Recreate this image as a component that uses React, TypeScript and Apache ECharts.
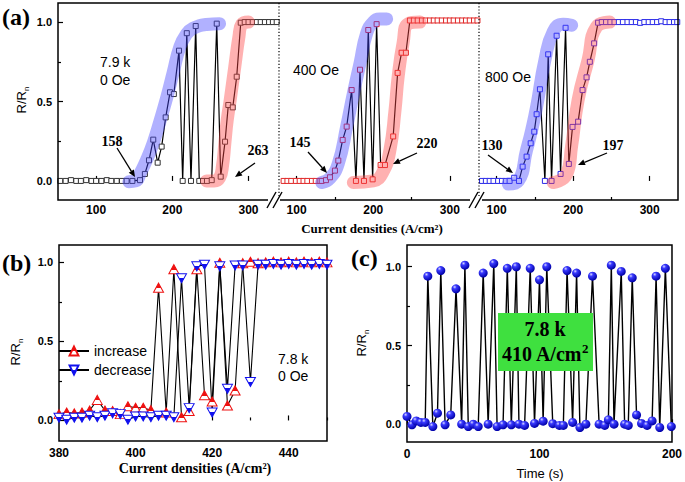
import React, { useEffect, useRef } from 'react';
import * as echarts from 'echarts';

const SANS = '"Liberation Sans", Arial, sans-serif';
const SERIF = '"Liberation Serif", "Times New Roman", serif';

// ---------- Panel (a): R/Rn vs current density, three fields ----------
const seg0Oe = [
  [53, 0], [60, 0], [67, 0.005], [74, 0], [80, 0], [87, 0.005], [94, 0], [100, 0], [107, 0], [114, 0.005],
  [120, 0], [127, 0], [134, 0], [140, 0], [147.6, 0], [157.6, 0.005], [164, 0.044], [169.4, 0.13],
  [175, 0.26], [180.8, 0.115], [186, 0.216], [191.3, 0.4], [197, 0.558], [202, 0.547], [208.8, 0.82],
  [213.6, 0], [219, 0.93], [224.5, 0], [230.7, 0.975], [235.4, 0], [240.3, 0], [245.5, 0], [251.7, 0.005],
  [258.3, 0.99], [263.5, 0.027], [269.2, 0.247], [273.5, 0.478], [279.3, 0.463], [284.5, 0.656],
  [289.8, 0.996], [295, 1], [300, 1], [305.5, 1], [311, 1], [316, 1], [321.5, 1], [327, 1], [332, 1], [337, 1],
];
const seg400Oe = [
  [83, 0], [88, 0], [93, 0], [99, 0], [104, 0], [109, 0], [114, 0], [120, 0], [125, 0], [130, 0],
  [132.7, 0], [138.3, 0.005], [143.5, 0.023], [150, 0.065], [154.4, 0.128], [160.1, 0.258], [165.3, 0.342],
  [171.8, 0.572], [177.4, 0], [182.7, 0.7], [187.9, 0], [193.5, 0.95], [199.2, 0.01], [204.4, 0.987],
  [209.6, 0.1], [215.3, 0.1], [226, 0.28], [231.8, 0.68], [237, 0.807], [242.6, 0.807], [247.8, 1.01],
  [253, 1.01], [258, 1.01], [263.5, 1.01], [268.5, 1.01], [274, 1.01], [279, 1.01], [284, 1.01], [289.5, 1.01],
  [295, 1.01], [300, 1.01], [305, 1.01], [310.5, 1.01], [316, 1.01], [321, 1.01], [326, 1.01], [331.5, 1.01], [336, 1.01],
];
const seg800Oe = [
  [81, 0], [86, 0], [91, 0], [96, 0], [102, 0], [107, 0], [112, 0], [117, 0], [123, 0.02], [129.2, 0],
  [134, 0.09], [139.2, 0.153], [144.5, 0.237], [149.2, 0.31], [152.3, 0.42], [156.6, 0.577], [163.1, 0],
  [167.4, 0.797], [171.8, 0], [178.4, 0.914], [183.6, 0.044], [190.1, 0.964], [194.4, 0.107], [199.2, 0.34],
  [206.5, 0.373], [212.3, 0.572], [217.5, 0.652], [221.8, 0.75], [227.4, 0.866], [232.6, 0.996],
  [237.4, 1], [243, 1], [248.6, 1], [254, 1], [259.7, 1], [265, 1], [271, 1], [276.5, 1], [282, 1],
  [287.5, 0.995], [293, 1], [298.7, 1], [304, 1], [309.7, 1], [315, 1.005], [320.8, 1], [326, 1], [331.8, 1], [336, 1],
];
// shaded guide bands (blue: increasing branch, red: decreasing branch)
const band0OeBlue = [[143, -0.005], [152, 0], [158, 0.05], [166, 0.13], [175, 0.24], [184, 0.38], [193, 0.53], [201, 0.68], [210, 0.845], [218, 0.92], [227, 0.96], [245, 0.985], [262, 0.99]];
const band0OeRed = [[245, 0], [255, 0], [262, 0.02], [266, 0.1], [269, 0.24], [272, 0.38], [276, 0.51], [282, 0.72], [287.5, 0.91], [291, 0.985], [300, 1]];
const band400Blue = [[132.7, -0.01], [143.5, 0.017], [154.4, 0.11], [165.3, 0.342], [174, 0.55], [182.7, 0.74], [191.4, 0.93], [200, 1.0], [208.7, 1.02], [217.5, 1.02]];
const band400Red = [[174, -0.01], [200, 0], [213, 0.06], [221.8, 0.195], [228.3, 0.44], [232.6, 0.66], [239, 0.87], [245.6, 0.99], [261, 1.0]];
const band800Blue = [[115.3, -0.02], [128.3, 0], [139.2, 0.195], [145.8, 0.32], [152.3, 0.467], [163.1, 0.76], [174, 0.94], [187, 0.987], [198, 0.98]];
const band800Red = [[174, -0.01], [191.4, 0.04], [198, 0.22], [206.5, 0.51], [219.5, 0.76], [230.5, 0.97], [247.8, 1.0]];

const aTicks = [100, 200, 300];
const aMinorTicks = [150, 250];
const rTicks = [0, 0.5, 1];
const rMinorTicks = [0.25, 0.75];

// ---------- Panel (b): increase / decrease sweeps ----------
const bCurrents = [380, 382, 384, 386, 388, 390, 392, 394, 396, 398, 400, 402, 404, 406, 408, 410, 412, 414,
  416, 418, 420, 422, 424, 426, 428, 430, 432, 434, 436, 438, 440, 442, 444, 446, 448, 450];
const bIncrease = [0.04, 0.05, 0.045, 0.05, 0.063, 0.13, 0.063, 0.06, 0.04, 0.09, 0.08, 0.08, 0.065, 0.84, 0.05,
  0.957, 0.02, 0.06, 0.957, 0.16, 0.12, 0.998, 0.095, 0.19, 0.995, 1.004, 0.995, 1.0, 1.005, 1.0, 1.005, 1.0, 1.005, 1.0, 1.005, 1.0];
const bDecrease = [0.017, 0.005, 0.017, 0.017, 0.03, 0.02, 0.03, 0.045, 0.04, 0.005, 0.025, 0.025, 0.02, 0.03, 0.03,
  0.02, 0.9, 0.078, 0.975, 0.985, 0.05, 0.975, 0.2, 0.98, 0.98, 0.243, 0.985, 0.985, 0.99, 0.985, 0.99, 0.985, 0.99, 0.985, 0.99, 0.985];
const bTicks = [380, 400, 420, 440];
const bMinorTicks = [390, 410, 430, 450];

// ---------- Panel (c): telegraph switching vs time ----------
const cSwitching = [
  [0, 0.05], [3.75, -0.003], [7, 0.022], [10.5, 0.012], [13.75, 0.012], [15.7, 0.94], [19.5, -0.014], [23, 0.071],
  [25.5, 0.976], [28.75, -0.003], [33, 0.06], [37, 0.86], [41.25, 0.001], [43.7, 1.01], [46.25, -0.014], [50, 0.001],
  [53.75, -0.014], [57.5, 0.96], [61.25, 0.001], [65.5, 1.02], [68, -0.014], [72.5, -0.003], [75.7, 0.99], [78.75, -0.003],
  [82.5, 1.0], [84.5, 0.001], [88.75, -0.007], [93, 0.99], [96.25, 0.006], [100, 0.917], [102.75, 0.02], [105.5, 1.0],
  [110, 0.004], [115, -0.007], [118, -0.007], [120.8, 0.976], [125, 0.012], [128, 0.96], [130.5, -0.02], [135, 0.001],
  [140, 0.94], [145, 0.001], [149.25, -0.007], [152, 0.029], [154.2, 1.01], [156.25, 0.001], [161.7, 0.97], [164.25, 0.001],
  [167, -0.007], [170, 0.93], [173.25, 0.06], [177, 0.006], [181.25, -0.007], [185, 0.022], [188, 0.94], [190.75, -0.02],
  [195, 0.99], [199.5, -0.014],
];
const cTicks = [0, 100, 200];
const cMinorTicks = [50, 150];

const TRI_DOWN = 'path://M0,0 L10,0 L5,9 Z';

const tickLine = { color: '#000', width: 1.2 };

function majorAxis(gridIndex: number, min: number, max: number, ticks: number[], position: string, fmt: (v: number) => string, fontSize = 12, margin = 6) {
  return {
    type: 'value', gridIndex, min, max, position,
    axisLine: { show: false }, splitLine: { show: false },
    axisTick: { show: true, inside: true, length: 5, customValues: ticks, lineStyle: tickLine },
    axisLabel: { show: true, customValues: ticks, margin, color: '#000', fontFamily: SANS, fontWeight: 'bold', fontSize, formatter: fmt },
  };
}
function minorAxis(gridIndex: number, min: number, max: number, ticks: number[], position: string) {
  return {
    type: 'value', gridIndex, min, max, position,
    axisLine: { show: false }, splitLine: { show: false },
    axisTick: { show: true, inside: true, length: 3, customValues: ticks, lineStyle: tickLine },
    axisLabel: { show: false },
  };
}
const fmtInt = (v: number) => String(Math.round(v));
const fmt1 = (v: number) => v.toFixed(1);

function segSeries(data: number[][], idx: number, stroke: string) {
  return {
    type: 'line', xAxisIndex: idx, yAxisIndex: idx, data, symbol: 'rect', symbolSize: 5,
    showSymbol: true, showAllSymbol: true, silent: true, z: 2,
    lineStyle: { color: '#000', width: 1.2 },
    itemStyle: { color: '#fff', borderColor: stroke, borderWidth: 1 },
  };
}
function bandSeries(data: number[][], idx: number, color: string) {
  return {
    type: 'line', xAxisIndex: idx, yAxisIndex: idx, data, smooth: 0.5, symbol: 'none', silent: true, z: 3,
    lineStyle: { color, width: 13, cap: 'round', join: 'round' },
  };
}

function arrow(x1: number, y1: number, x2: number, y2: number) {
  const L = Math.hypot(x2 - x1, y2 - y1);
  const ux = (x2 - x1) / L, uy = (y2 - y1) / L;
  const bx = x2 - ux * 7, by = y2 - uy * 7;
  const px = -uy, py = ux;
  return [
    { type: 'line', z: 100, shape: { x1, y1, x2: bx, y2: by }, style: { stroke: '#000', lineWidth: 1.3 } },
    { type: 'polygon', z: 100, shape: { points: [[x2, y2], [bx + px * 3, by + py * 3], [bx - px * 3, by - py * 3]] }, style: { fill: '#000' } },
  ];
}
function txt(x: number, y: number, text: string, font: string, size: number, weight = 'normal', align = 'center') {
  return { type: 'text', z: 100, x, y, style: { text, fill: '#000', fontFamily: font, fontSize: size, fontWeight: weight, align, verticalAlign: 'middle' } };
}
function rTitle(x: number, y: number) {
  return {
    type: 'text', z: 100, x, y, rotation: Math.PI / 2,
    style: {
      text: '{a|R/R}{b|n}', fill: '#000', align: 'center', verticalAlign: 'middle',
      rich: { a: { fontFamily: SANS, fontSize: 13, lineHeight: 18 }, b: { fontFamily: SANS, fontSize: 8, lineHeight: 8, verticalAlign: 'bottom' } },
    },
  };
}
function breakMark(cx: number) {
  return [
    { type: 'rect', z: 100, shape: { x: cx - 6, y: 196, width: 12, height: 8 }, style: { fill: '#fff' } },
    { type: 'line', z: 101, shape: { x1: cx - 7, y1: 208, x2: cx + 2, y2: 192 }, style: { stroke: '#000', lineWidth: 1.4 } },
    { type: 'line', z: 101, shape: { x1: cx - 1, y1: 208, x2: cx + 8, y2: 192 }, style: { stroke: '#000', lineWidth: 1.4 } },
  ];
}
// half-filled marker fill: solid colour near the tip, white elsewhere
function tipFill(color: string, tipAtTop: boolean) {
  const stops = tipAtTop
    ? [{ offset: 0, color }, { offset: 0.55, color }, { offset: 0.55, color: '#fff' }, { offset: 1, color: '#fff' }]
    : [{ offset: 0, color: '#fff' }, { offset: 0.45, color: '#fff' }, { offset: 0.45, color }, { offset: 1, color }];
  return new echarts.graphic.LinearGradient(0, 0, 0, 1, stops);
}

function buildOption() {
  const aRange = [[50, 340], [77, 338], [77, 337]];
  const aY = [-0.12, 1.12];
  const bY = [-0.13, 1.11];
  const cY = [-0.112, 1.138];
  const BLUE = 'rgba(70,70,255,0.42)';
  const RED = 'rgba(255,70,70,0.42)';
  const ball = new echarts.graphic.RadialGradient(0.35, 0.3, 0.7, [
    { offset: 0, color: '#d8d8ff' },
    { offset: 0.3, color: '#3a3aff' },
    { offset: 1, color: '#0000a8' },
  ]);

  return {
    animation: false,
    grid: [
      { left: 58, top: 3, width: 221, height: 197 },
      { left: 279, top: 3, width: 200, height: 197 },
      { left: 479, top: 3, width: 199, height: 197 },
      { left: 59, top: 245, width: 268, height: 196, show: true, borderColor: '#000', borderWidth: 1.5, backgroundColor: 'transparent' },
      { left: 407, top: 245, width: 267, height: 197, show: true, borderColor: '#000', borderWidth: 1.5, backgroundColor: 'transparent' },
    ],
    xAxis: [
      majorAxis(0, aRange[0][0], aRange[0][1], aTicks, 'bottom', fmtInt, 12, 4),
      majorAxis(1, aRange[1][0], aRange[1][1], aTicks, 'bottom', fmtInt, 12, 4),
      majorAxis(2, aRange[2][0], aRange[2][1], aTicks, 'bottom', fmtInt, 12, 4),
      majorAxis(3, 380, 450, bTicks, 'bottom', fmtInt),
      majorAxis(4, 0, 200, cTicks, 'bottom', fmtInt),
      minorAxis(0, aRange[0][0], aRange[0][1], aMinorTicks, 'bottom'),
      minorAxis(1, aRange[1][0], aRange[1][1], aMinorTicks, 'bottom'),
      minorAxis(2, aRange[2][0], aRange[2][1], aMinorTicks, 'bottom'),
      minorAxis(3, 380, 450, bMinorTicks, 'bottom'),
      minorAxis(4, 0, 200, cMinorTicks, 'bottom'),
    ],
    yAxis: [
      majorAxis(0, aY[0], aY[1], rTicks, 'left', fmt1, 11),
      { type: 'value', gridIndex: 1, min: aY[0], max: aY[1], show: false },
      { type: 'value', gridIndex: 2, min: aY[0], max: aY[1], show: false },
      majorAxis(3, bY[0], bY[1], rTicks, 'left', fmt1, 11),
      majorAxis(4, cY[0], cY[1], rTicks, 'left', fmt1, 11),
      minorAxis(0, aY[0], aY[1], rMinorTicks, 'left'),
      minorAxis(3, bY[0], bY[1], rMinorTicks, 'left'),
      minorAxis(4, cY[0], cY[1], rMinorTicks, 'left'),
    ],
    legend: {
      data: ['increase', 'decrease'], orient: 'vertical', left: 58, top: 344, padding: 0,
      itemWidth: 30, itemHeight: 11, itemGap: 5, selectedMode: false,
      textStyle: { fontFamily: SANS, fontSize: 14, color: '#000' },
    },
    series: [
      segSeries(seg0Oe, 0, '#333'),
      segSeries(seg400Oe, 1, '#e02828'),
      segSeries(seg800Oe, 2, '#2a2ae8'),
      bandSeries(band0OeBlue, 0, BLUE),
      bandSeries(band0OeRed, 0, RED),
      bandSeries(band400Blue, 1, BLUE),
      bandSeries(band400Red, 1, RED),
      bandSeries(band800Blue, 2, BLUE),
      bandSeries(band800Red, 2, RED),
      {
        name: 'increase', type: 'line', xAxisIndex: 3, yAxisIndex: 3,
        data: bCurrents.map((c, i) => [c, bIncrease[i]]),
        symbol: 'triangle', symbolSize: [10, 9], showAllSymbol: true,
        lineStyle: { color: '#000', width: 1.1 },
        itemStyle: { color: tipFill('#ee1111', true), borderColor: '#ee1111', borderWidth: 1 },
      },
      {
        name: 'decrease', type: 'line', xAxisIndex: 3, yAxisIndex: 3,
        data: bCurrents.map((c, i) => [c, bDecrease[i]]),
        symbol: TRI_DOWN, symbolSize: [10, 9], showAllSymbol: true,
        lineStyle: { color: '#000', width: 1.1 },
        itemStyle: { color: tipFill('#1111ee', false), borderColor: '#1111ee', borderWidth: 1 },
      },
      {
        type: 'line', xAxisIndex: 4, yAxisIndex: 4, data: cSwitching,
        symbol: 'circle', symbolSize: 9, showAllSymbol: true,
        lineStyle: { color: '#000', width: 1.4 },
        itemStyle: { color: ball },
      },
    ],
    graphic: [
      // panel (a) frame and break separators
      { type: 'rect', z: 99, shape: { x: 58, y: 3, width: 620, height: 197 }, style: { fill: 'none', stroke: '#000', lineWidth: 1.5 } },
      { type: 'line', z: 99, shape: { x1: 279, y1: 3, x2: 279, y2: 200 }, style: { stroke: '#000', lineWidth: 1.2, lineDash: [1.2, 2] } },
      { type: 'line', z: 99, shape: { x1: 479, y1: 3, x2: 479, y2: 200 }, style: { stroke: '#000', lineWidth: 1.2, lineDash: [1.2, 2] } },
      ...breakMark(274),
      ...breakMark(476),
      // panel letters
      txt(2, 17, '(a)', SERIF, 24, 'bold', 'left'),
      txt(2, 263, '(b)', SERIF, 24, 'bold', 'left'),
      txt(351, 258, '(c)', SERIF, 24, 'bold', 'left'),
      // panel (a) annotations
      txt(100, 62, '7.9 k', SANS, 14, 'normal', 'left'),
      txt(100, 79.5, '0 Oe', SANS, 14, 'normal', 'left'),
      txt(293, 70, '400 Oe', SANS, 14, 'normal', 'left'),
      txt(485, 77, '800 Oe', SANS, 14, 'normal', 'left'),
      txt(112, 141, '158', SERIF, 14, 'bold'),
      txt(258, 150, '263', SERIF, 14, 'bold'),
      txt(300, 142, '145', SERIF, 14, 'bold'),
      txt(427, 143, '220', SERIF, 14, 'bold'),
      txt(492, 145, '130', SERIF, 14, 'bold'),
      txt(613, 145, '197', SERIF, 14, 'bold'),
      ...arrow(117, 148, 135, 177),
      ...arrow(255, 163, 235, 177),
      ...arrow(308, 152, 327, 173),
      ...arrow(417, 153, 393, 164),
      ...arrow(488, 155, 513, 173),
      ...arrow(607, 153, 578, 165),
      txt(372, 228, 'Current densities (A/cm²)', SERIF, 13, 'bold'),
      rTitle(21, 100),
      // panel (b)
      txt(278, 359, '7.8 k', SANS, 14, 'normal', 'left'),
      txt(278, 376, '0 Oe', SANS, 14, 'normal', 'left'),
      txt(195, 468, 'Current densities (A/cm²)', SERIF, 14, 'bold'),
      rTitle(15, 352),
      // panel (c)
      { type: 'rect', z: 100, shape: { x: 498, y: 313, width: 95, height: 58 }, style: { fill: '#3fe03f' } },
      txt(545, 329, '7.8 k', SERIF, 20, 'bold'),
      {
        type: 'text', z: 101, x: 545, y: 354,
        style: {
          text: '{m|410 A/cm}{s|2}', fill: '#000', align: 'center', verticalAlign: 'middle',
          rich: { m: { fontFamily: SERIF, fontWeight: 'bold', fontSize: 20, lineHeight: 24 }, s: { fontFamily: SERIF, fontWeight: 'bold', fontSize: 13, lineHeight: 13, verticalAlign: 'top' } },
        },
      },
      txt(540, 473, 'Time (s)', SANS, 13),
      rTitle(361, 343),
    ],
  };
}

export default function App() {
  const ref = useRef<HTMLDivElement>(null);
  useEffect(() => {
    document.body.style.margin = '0';
    const chart = echarts.init(ref.current as HTMLDivElement, null, { renderer: 'svg' });
    chart.setOption(buildOption() as any);
    return () => chart.dispose();
  }, []);
  return <div ref={ref} style={{ width: 685, height: 482 }} />;
}
